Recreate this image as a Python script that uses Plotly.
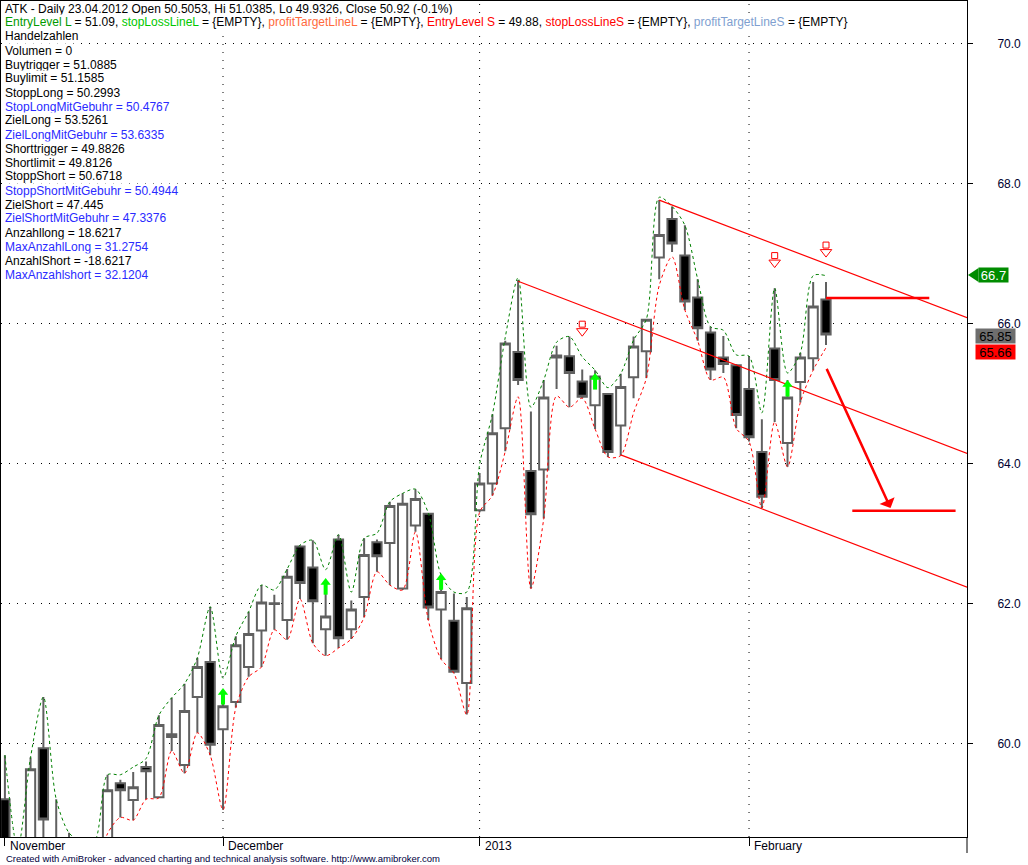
import plotly.graph_objects as go

# ---------------- data ----------------
bar_idx = list(range(65))
opens = [59.21, 58.45, 58.50, 59.94, 58.60, 58.40, 58.30, 58.40, 58.62, 59.44,
         59.20, 59.67, 59.24, 60.10, 59.70, 60.67, 61.17, 60.21, 60.60, 61.10,
         61.62, 62.00, 61.77, 62.82, 62.52, 61.64, 62.92, 61.64, 62.10, 62.88,
         62.87, 62.22, 63.12, 63.29, 61.92, 61.76, 60.87, 63.34, 63.72, 64.51,
         65.60, 63.90, 63.92, 65.52, 65.54, 65.18, 64.84, 65.00, 64.55, 65.24,
         65.61, 66.95, 67.50, 66.98, 66.38, 65.88, 65.52, 65.41, 65.07, 64.17,
         65.65, 64.30, 65.17, 65.51, 66.35]
highs = [59.84, 58.55, 59.81, 60.67, 59.21, 58.73, 58.60, 58.62, 59.56, 59.49,
         59.60, 59.75, 60.41, 60.66, 60.86, 61.23, 61.96, 60.59, 61.54, 61.89,
         62.27, 62.13, 62.50, 62.84, 62.91, 62.15, 62.99, 62.05, 62.94, 62.92,
         63.46, 63.58, 63.64, 63.30, 62.23, 62.15, 62.10, 63.87, 64.71, 65.76,
         66.63, 64.75, 65.20, 65.69, 65.82, 65.35, 65.34, 65.01, 65.29, 65.82,
         66.07, 67.77, 67.68, 67.41, 66.64, 65.96, 65.83, 65.43, 65.54, 64.64,
         66.51, 65.20, 65.59, 66.60, 66.60]
lows = [58.34, 58.10, 58.30, 58.40, 58.20, 58.10, 58.00, 58.10, 58.55, 58.95,
        58.91, 59.21, 59.23, 59.90, 59.58, 60.16, 59.84, 59.06, 60.52, 60.96,
        61.10, 61.63, 61.49, 62.07, 61.44, 61.26, 61.37, 61.50, 61.81, 62.46,
        62.27, 62.20, 63.03, 61.77, 61.21, 61.01, 60.42, 63.31, 63.55, 64.18,
        65.13, 62.22, 63.22, 65.07, 64.81, 64.94, 64.50, 64.10, 64.12, 64.94,
        65.23, 66.64, 67.03, 66.20, 65.76, 65.20, 65.30, 64.51, 64.32, 63.37,
        64.60, 63.96, 64.88, 65.34, 65.70]
closes = [58.49, 58.25, 59.64, 58.92, 58.45, 58.55, 58.50, 58.55, 59.34, 59.34,
          59.38, 59.61, 60.27, 60.14, 60.47, 61.10, 59.99, 60.54, 61.41, 61.57,
          62.02, 62.01, 62.39, 62.30, 62.04, 61.82, 61.51, 61.92, 62.70, 62.68,
          63.40, 63.43, 63.50, 61.95, 62.17, 61.03, 61.94, 63.72, 64.44, 65.72,
          65.20, 63.28, 64.95, 65.55, 65.30, 64.96, 65.25, 64.17, 65.10, 65.68,
          66.06, 67.27, 67.15, 66.32, 65.94, 65.35, 65.43, 64.70, 64.38, 63.53,
          65.20, 64.95, 65.52, 66.25, 65.85]
upper_env = [59.84, 58.50, 59.81, 60.67, 59.21, 58.73, 58.60, 58.62, 59.56, 59.56,
             59.67, 59.79, 60.41, 60.66, 60.86, 61.23, 61.96, 60.94, 61.54, 61.89,
             62.27, 62.20, 62.50, 62.84, 62.91, 62.49, 62.99, 62.17, 62.94, 63.01,
             63.46, 63.58, 63.64, 63.30, 62.41, 62.17, 62.17, 63.99, 64.71, 65.81,
             66.66, 64.81, 65.20, 65.74, 65.82, 65.53, 65.34, 65.09, 65.29, 65.77,
             66.07, 67.81, 67.68, 67.41, 66.64, 65.96, 65.91, 65.56, 65.54, 64.73,
             66.51, 65.30, 65.59, 66.69, 66.69]
lower_env = [58.34, 58.10, 58.30, 58.40, 58.20, 58.10, 58.00, 58.10, 58.72, 58.95,
             58.91, 59.21, 59.23, 59.90, 59.58, 60.16, 59.84, 59.06, 60.52, 60.96,
             61.10, 61.63, 61.49, 62.07, 61.44, 61.26, 61.37, 61.50, 61.81, 62.46,
             62.27, 62.20, 63.03, 61.77, 61.21, 61.01, 60.42, 63.31, 63.55, 64.18,
             64.96, 62.22, 63.22, 64.97, 64.81, 64.94, 64.50, 64.10, 64.12, 64.73,
             65.23, 66.55, 66.96, 66.20, 65.76, 65.20, 65.24, 64.51, 64.32, 63.37,
             64.60, 63.96, 64.88, 65.34, 65.66]

buy_idx = [17, 25, 34, 46, 61]
buy_tip = [60.80, 62.37, 62.44, 65.30, 65.20]
sell_idx = [45, 60, 64]
sell_tip = [65.84, 66.82, 66.97]

# trend channel lines (start bar/value, end bar/value)
chan_x0 = [51, 40, 48]
chan_y0 = [67.77, 66.61, 64.13]
chan_x1 = [75.0, 75.0, 75.0]
chan_y1 = [66.09, 64.15, 62.24]

# target lines and arrow
entry_line_x = [64, 72.05]
entry_line_y = [66.37, 66.37]
target_line_x = [66.05, 74.1]
target_line_y = [63.33, 63.33]
arrow_tail = (64, 65.38)
arrow_head = (69.03, 63.37)

month_idx = [0, 17, 37, 58]
month_labels = ["November", "December", "2013", "February"]

y_ticks = [60.0, 62.0, 64.0, 66.0, 68.0, 70.0]
y_tick_text = ["60.0", "62.0", "64.0", "66.0", "68.0", "70.0"]

tag_upper = 66.7
tag_close = 65.85
tag_lower = 65.66

BLACK = "#000000"
BLUE = "#2a2aff"
info_lines = [
    [("ATK - Daily 23.04.2012 Open 50.5053, Hi 51.0385, Lo 49.9326, Close 50.92 (-0.1%)", BLACK)],
    [("EntryLevel L", "#009a00"), (" = 51.09, ", BLACK), ("stopLossLineL", "#00c800"),
     (" = {EMPTY}, ", BLACK), ("profitTargetLineL", "#ff6a3c"), (" = {EMPTY}, ", BLACK),
     ("EntryLevel S", "#ff0000"), (" = 49.88, ", BLACK), ("stopLossLineS", "#ff0000"),
     (" = {EMPTY}, ", BLACK), ("profitTargetLineS", "#7f9fd0"), (" = {EMPTY}", BLACK)],
    [("Handelzahlen", BLACK)],
    [("Volumen = 0", BLACK)],
    [("Buytrigger = 51.0885", BLACK)],
    [("Buylimit = 51.1585", BLACK)],
    [("StoppLong = 50.2993", BLACK)],
    [("StopLongMitGebuhr = 50.4767", BLUE)],
    [("ZielLong = 53.5261", BLACK)],
    [("ZielLongMitGebuhr = 53.6335", BLUE)],
    [("Shorttrigger = 49.8826", BLACK)],
    [("Shortlimit = 49.8126", BLACK)],
    [("StoppShort = 50.6718", BLACK)],
    [("StoppShortMitGebuhr = 50.4944", BLUE)],
    [("ZielShort = 47.445", BLACK)],
    [("ZielShortMitGebuhr = 47.3376", BLUE)],
    [("Anzahllong = 18.6217", BLACK)],
    [("MaxAnzahlLong = 31.2754", BLUE)],
    [("AnzahlShort = -18.6217", BLACK)],
    [("MaxAnzahlshort = 32.1204", BLUE)],
]

# ---------------- geometry ----------------
W, H = 1028, 865
ML, MR, MT, MB = 1, 61, 1, 28
PH = H - MT - MB          # plot height in px
PW = W - ML - MR
Y_RANGE = [58.671, 70.614]
X_RANGE = [-0.304, 74.99]
PX = (Y_RANGE[1] - Y_RANGE[0]) / PH   # value per pixel


def py(pix):
    """pixel row of the page -> paper y"""
    return (H - MB - pix) / PH


def px_(pix):
    return (pix - ML) / PW


FONT = "Arial, Liberation Sans, sans-serif"

fig = go.Figure()

fig.add_trace(go.Candlestick(
    x=bar_idx, open=opens, high=highs, low=lows, close=closes,
    increasing=dict(fillcolor="white", line=dict(color="#606060", width=2)),
    decreasing=dict(fillcolor="black", line=dict(color="#606060", width=2)),
    whiskerwidth=0, hoverinfo="skip", showlegend=False))

fig.add_trace(go.Scatter(x=bar_idx, y=upper_env, mode="lines",
                         line=dict(color="#008000", width=1, dash="3px,3px", shape="spline", smoothing=0.8),
                         hoverinfo="skip", showlegend=False))
fig.add_trace(go.Scatter(x=bar_idx, y=lower_env, mode="lines",
                         line=dict(color="#ff0000", width=1, dash="3px,3px", shape="spline", smoothing=0.8),
                         hoverinfo="skip", showlegend=False))

for x0, y0, x1, y1 in zip(chan_x0, chan_y0, chan_x1, chan_y1):
    fig.add_trace(go.Scatter(x=[x0, x1], y=[y0, y1], mode="lines",
                             line=dict(color="#ff0000", width=1.2),
                             hoverinfo="skip", showlegend=False, cliponaxis=True))

fig.add_trace(go.Scatter(x=entry_line_x, y=entry_line_y, mode="lines",
                         line=dict(color="#ff0000", width=2.5), hoverinfo="skip", showlegend=False))
fig.add_trace(go.Scatter(x=target_line_x, y=target_line_y, mode="lines",
                         line=dict(color="#ff0000", width=2.5), hoverinfo="skip", showlegend=False))

# buy arrows (solid green, head + shaft)
fig.add_trace(go.Scatter(x=buy_idx, y=[t - 11 * PX for t in buy_tip], mode="markers",
                         marker=dict(symbol="line-ns", size=8, line=dict(color="#00ff00", width=4)),
                         hoverinfo="skip", showlegend=False))
fig.add_trace(go.Scatter(x=buy_idx, y=[t - 4.5 * PX for t in buy_tip], mode="markers",
                         marker=dict(symbol="triangle-up", size=9, color="#00ff00", line=dict(width=0)),
                         hoverinfo="skip", showlegend=False))
# sell arrows (hollow red)
fig.add_trace(go.Scatter(x=sell_idx, y=[t + 11 * PX for t in sell_tip], mode="markers",
                         marker=dict(symbol="square-open", size=6, color="#ff0000", line=dict(width=1)),
                         hoverinfo="skip", showlegend=False))
fig.add_trace(go.Scatter(x=sell_idx, y=[t + 4 * PX for t in sell_tip], mode="markers",
                         marker=dict(symbol="triangle-down", size=10, color="white",
                                     line=dict(color="#ff0000", width=1)),
                         hoverinfo="skip", showlegend=False))

annotations = []
# projected move arrow
annotations.append(dict(x=arrow_head[0], y=arrow_head[1], ax=arrow_tail[0], ay=arrow_tail[1],
                        xref="x", yref="y", axref="x", ayref="y", text="", showarrow=True,
                        arrowhead=1, arrowsize=1.1, arrowwidth=2.5, arrowcolor="#ff0000", standoff=0))

# info text block
for k, segs in enumerate(info_lines):
    txt = "".join(
        s if c == BLACK else f"<span style='color:{c}'>{s}</span>" for s, c in segs)
    annotations.append(dict(x=px_(4), y=py(8.5 + 14.0 * k), xref="paper", yref="paper",
                            xanchor="left", yanchor="middle", text=txt, showarrow=False,
                            bgcolor="white", borderpad=0,
                            font=dict(family=FONT, size=12, color=BLACK)))

# month labels
for m, lab in zip(month_idx, month_labels):
    annotations.append(dict(x=m, y=py(846), xref="x", yref="paper", xanchor="left",
                            yanchor="middle", xshift=3, text=lab, showarrow=False,
                            font=dict(family=FONT, size=12, color="#000010")))

# footer
annotations.append(dict(x=px_(4), y=py(858), xref="paper", yref="paper", xanchor="left",
                        yanchor="middle", showarrow=False,
                        text="Created with AmiBroker - advanced charting and technical analysis software. http://www.amibroker.com",
                        font=dict(family=FONT, size=9.5, color="#000040")))

# price tags on the axis
annotations.append(dict(x=px_(978), y=tag_upper, xref="paper", yref="y", xanchor="left",
                        yanchor="middle", text=f"{tag_upper}", showarrow=False, width=29, height=14,
                        bgcolor="#008c00", borderpad=0,
                        font=dict(family=FONT, size=13, color="white")))
annotations.append(dict(x=px_(975), y=tag_close, xref="paper", yref="y", xanchor="left",
                        yanchor="middle", yshift=-1.5, text=f"{tag_close:.2f}", showarrow=False,
                        width=39, height=14, bgcolor="#6e6e6e", borderpad=0,
                        font=dict(family=FONT, size=13, color="black")))
annotations.append(dict(x=px_(975), y=tag_lower, xref="paper", yref="y", xanchor="left",
                        yanchor="middle", yshift=-4.5, text=f"{tag_lower:.2f}", showarrow=False,
                        width=39, height=14, bgcolor="#ff0000", borderpad=0,
                        font=dict(family=FONT, size=13, color="black")))

shapes = []
for m in month_idx[1:]:
    shapes.append(dict(type="line", xref="x", yref="paper", x0=m, x1=m, y0=0, y1=1,
                       line=dict(color="black", width=1, dash="1px,7px"), layer="below"))
shapes.append(dict(type="line", xref="paper", yref="paper", x0=1, x1=1, y0=0, y1=py(853),
                   line=dict(color="black", width=1)))
hh = 7 * PX
shapes.append(dict(type="path", xref="paper", yref="y",
                   path=f"M {px_(968)},{tag_upper} L {px_(978.5)},{tag_upper + hh} L {px_(978.5)},{tag_upper - hh} Z",
                   fillcolor="#008c00", line=dict(width=0)))

fig.update_layout(
    width=W, height=H, margin=dict(l=ML, r=MR, t=MT, b=MB, pad=0),
    paper_bgcolor="white", plot_bgcolor="white",
    showlegend=False, annotations=annotations, shapes=shapes,
    boxgap=0.28, boxgroupgap=0.0,
    font=dict(family=FONT, size=12, color="black"),
    xaxis=dict(range=X_RANGE, tickvals=month_idx, showticklabels=False, ticks="outside",
               ticklen=8, tickcolor="black", showgrid=False, zeroline=False,
               showline=True, linecolor="black", linewidth=1, mirror=True,
               rangeslider=dict(visible=False), fixedrange=True),
    yaxis=dict(range=Y_RANGE, side="right", tickmode="array", tickvals=y_ticks,
               ticktext=y_tick_text,
               ticks="outside", ticklen=5, tickcolor="black", ticklabelstandoff=22,
               tickfont=dict(family=FONT, size=12, color="#000030"),
               showgrid=True, gridcolor="black", gridwidth=1, griddash="1px,7px",
               zeroline=False, showline=True, linecolor="black", linewidth=1, mirror=True,
               fixedrange=True),
)

fig.write_html("out.html", config={"displayModeBar": False},
               post_script="document.body.style.margin='0px';document.body.style.padding='0px';")
